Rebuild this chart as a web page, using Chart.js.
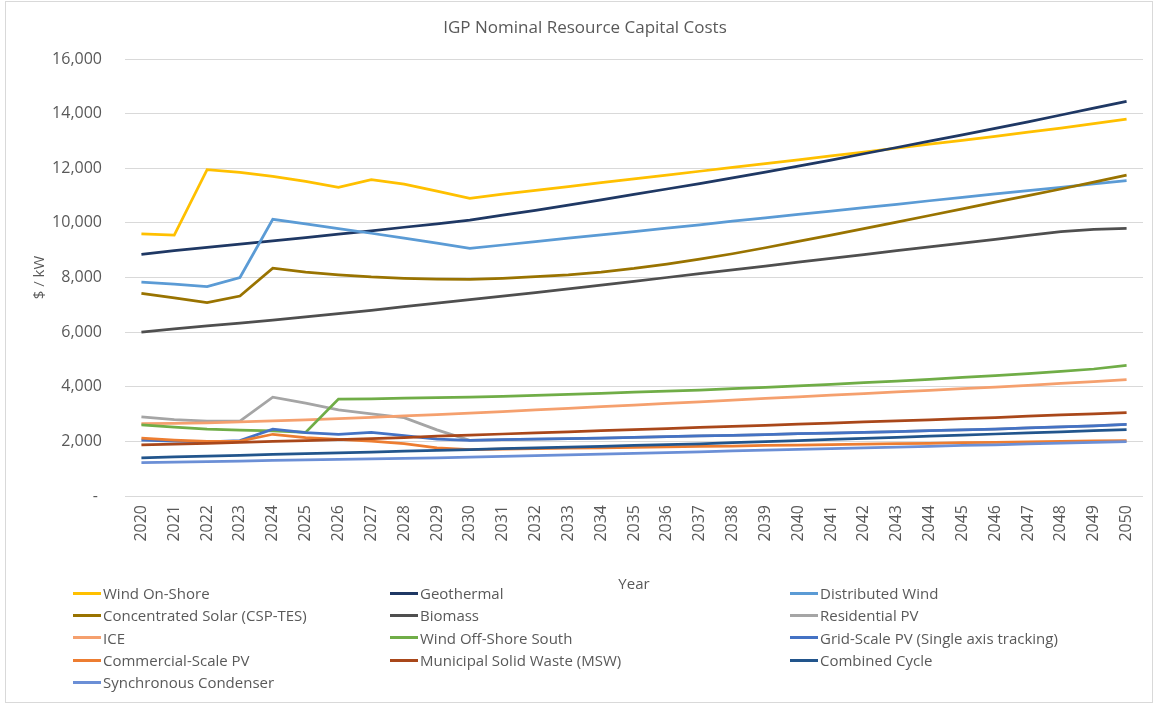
<!DOCTYPE html>
<html lang="en">
<head>
    <meta charset="UTF-8">
    <title>IGP Nominal Resource Capital Costs</title>
    <script src="https://cdn.jsdelivr.net/npm/chart.js"></script>
    <style>
        body {
            margin: 0;
            background: #fff;
            font-family: "Open Sans", sans-serif;
        }
        .frame {
            position: absolute;
            left: 5px;
            top: 1px;
            width: 1146px;
            height: 700px;
            border: 1px solid #d9d9d9;
        }
        #chart {
            position: absolute;
            left: 0;
            top: 0;
        }
        #legend {
            position: absolute;
            left: 73px;
            top: 582px;
            display: grid;
            grid-template-columns: 317px 400px 320px;
            grid-auto-rows: 22.3px;
            font-size: 15px;
            color: #595959;
        }
        .item {
            display: flex;
            align-items: center;
            white-space: nowrap;
        }
        .swatch {
            width: 28px;
            height: 3px;
            margin-right: 2px;
        }
    </style>
</head>
<body>
    <div class="frame"></div>
    <canvas id="chart" width="1156" height="600"></canvas>
    <div id="legend"></div>

    <script>
        const years = ['2020', '2021', '2022', '2023', '2024', '2025', '2026', '2027', '2028', '2029', '2030',
            '2031', '2032', '2033', '2034', '2035', '2036', '2037', '2038', '2039', '2040',
            '2041', '2042', '2043', '2044', '2045', '2046', '2047', '2048', '2049', '2050'];

        // $/kW
        const windOnShore = [9600, 9550, 11950, 11850, 11700, 11520, 11300, 11580, 11420, 11160, 10900,
            11050, 11190, 11330, 11470, 11610, 11750, 11890, 12030, 12170, 12310,
            12450, 12590, 12740, 12880, 13020, 13170, 13320, 13470, 13630, 13800];
        const geothermal = [8850, 8980, 9100, 9220, 9340, 9460, 9590, 9710, 9840, 9960, 10100,
            10280, 10460, 10650, 10840, 11040, 11240, 11440, 11650, 11860, 12080,
            12300, 12530, 12760, 12990, 13220, 13460, 13700, 13950, 14200, 14450];
        const distributedWind = [7830, 7760, 7670, 8000, 10130, 9960, 9790, 9620, 9440, 9260, 9070,
            9190, 9310, 9440, 9560, 9680, 9810, 9930, 10060, 10180, 10310,
            10430, 10560, 10680, 10810, 10930, 11060, 11180, 11300, 11430, 11550];
        const concentratedSolar = [7420, 7250, 7080, 7320, 8340, 8200, 8100, 8020, 7970, 7940, 7930,
            7970, 8030, 8100, 8200, 8330, 8490, 8670, 8870, 9090, 9320,
            9550, 9790, 10030, 10270, 10510, 10760, 11000, 11240, 11490, 11750];
        const biomass = [6000, 6120, 6230, 6330, 6440, 6560, 6680, 6800, 6930, 7060, 7190,
            7320, 7450, 7580, 7720, 7860, 8000, 8140, 8280, 8420, 8560,
            8700, 8840, 8980, 9120, 9260, 9400, 9540, 9680, 9760, 9800];
        const residentialPV = [2900, 2800, 2740, 2740, 3620, 3400, 3150, 3010, 2870, 2420, 2040,
            2060, 2080, 2100, 2120, 2150, 2170, 2200, 2220, 2250, 2280,
            2300, 2330, 2360, 2390, 2420, 2450, 2490, 2530, 2570, 2620];
        const ice = [2650, 2660, 2680, 2710, 2750, 2790, 2830, 2880, 2930, 2980, 3030,
            3090, 3150, 3210, 3270, 3330, 3390, 3450, 3510, 3570, 3630,
            3690, 3750, 3810, 3870, 3930, 3990, 4050, 4120, 4190, 4260];
        const windOffShoreSouth = [2600, 2520, 2450, 2410, 2380, 2330, 3550, 3560, 3580, 3600, 3620,
            3650, 3680, 3720, 3760, 3800, 3840, 3880, 3930, 3980, 4030,
            4090, 4150, 4210, 4270, 4340, 4410, 4480, 4560, 4650, 4780];
        const gridScalePV = [2050, 2010, 1980, 2030, 2450, 2320, 2260, 2330, 2210, 2080, 2040,
            2060, 2080, 2100, 2120, 2150, 2170, 2200, 2220, 2250, 2280,
            2300, 2330, 2360, 2390, 2420, 2450, 2490, 2530, 2570, 2620];
        const commercialPV = [2120, 2050, 2000, 2010, 2260, 2140, 2070, 2010, 1920, 1760, 1700,
            1715, 1730, 1750, 1765, 1780, 1800, 1815, 1830, 1850, 1865,
            1880, 1900, 1915, 1930, 1950, 1965, 1980, 2000, 2015, 2030];
        const msw = [1870, 1900, 1930, 1960, 2000, 2030, 2060, 2100, 2140, 2190, 2230,
            2270, 2310, 2350, 2390, 2430, 2470, 2510, 2550, 2590, 2630,
            2670, 2710, 2750, 2790, 2830, 2870, 2920, 2970, 3010, 3050];
        const combinedCycle = [1400, 1430, 1460, 1490, 1520, 1550, 1580, 1610, 1640, 1670, 1700,
            1730, 1760, 1790, 1820, 1850, 1880, 1910, 1950, 1990, 2030,
            2070, 2110, 2150, 2190, 2230, 2270, 2310, 2350, 2390, 2430];
        const syncCondenser = [1220, 1240, 1260, 1280, 1300, 1320, 1340, 1360, 1380, 1400, 1420,
            1450, 1480, 1510, 1535, 1565, 1590, 1620, 1650, 1680, 1705,
            1735, 1765, 1790, 1820, 1850, 1875, 1905, 1935, 1960, 1990];

        const seriesNames = ['Wind On-Shore', 'Geothermal', 'Distributed Wind',
            'Concentrated Solar (CSP-TES)', 'Biomass', 'Residential PV',
            'ICE', 'Wind Off-Shore South', 'Grid-Scale PV (Single axis tracking)',
            'Commercial-Scale PV', 'Municipal Solid Waste (MSW)', 'Combined Cycle',
            'Synchronous Condenser'];
        const seriesValues = [windOnShore, geothermal, distributedWind, concentratedSolar, biomass,
            residentialPV, ice, windOffShoreSouth, gridScalePV, commercialPV, msw, combinedCycle, syncCondenser];
        const seriesColors = ['#FFC000', '#1F3864', '#5B9BD5', '#997300', '#4F4F4F', '#A5A5A5',
            '#F5A06E', '#70AD47', '#4472C4', '#ED7D31', '#A9471A', '#22558C', '#6B8FD6'];

        const textColor = '#595959';
        const fontFamily = '"Open Sans", sans-serif';

        // Excel draws later series on top, so give earlier ones a higher order
        const datasets = seriesNames.map((name, i) => ({
            label: name,
            data: seriesValues[i],
            borderColor: seriesColors[i],
            backgroundColor: seriesColors[i],
            borderWidth: 2.75,
            pointRadius: 0,
            tension: 0,
            fill: false,
            order: seriesNames.length - i
        }));

        const chart = new Chart(document.getElementById('chart'), {
            type: 'line',
            data: { labels: years, datasets: datasets },
            options: {
                responsive: false,
                animation: false,
                layout: { padding: { left: 27, right: 13, top: 0, bottom: 0 } },
                plugins: {
                    legend: { display: false },
                    tooltip: { enabled: false },
                    title: {
                        display: true,
                        text: 'IGP Nominal Resource Capital Costs',
                        color: textColor,
                        font: { family: fontFamily, size: 17, weight: 'normal' },
                        padding: { top: 18, bottom: 20.6 }
                    }
                },
                scales: {
                    x: {
                        offset: true,
                        grid: { display: false, drawTicks: false },
                        border: { display: false },
                        ticks: {
                            autoSkip: false,
                            maxRotation: 90,
                            minRotation: 90,
                            padding: 9,
                            color: textColor,
                            font: { family: fontFamily, size: 16 }
                        },
                        title: {
                            display: true,
                            text: 'Year',
                            color: textColor,
                            font: { family: fontFamily, size: 15 },
                            padding: { top: 0, bottom: 6 }
                        },
                        afterFit: s => { s.height = 104; }
                    },
                    y: {
                        min: 0,
                        max: 16000,
                        grid: { color: '#d9d9d9', drawTicks: false },
                        border: { display: false },
                        ticks: {
                            stepSize: 2000,
                            padding: 23,
                            color: textColor,
                            font: { family: fontFamily, size: 16 },
                            callback: v => v === 0 ? '- ' : v.toLocaleString('en-US')
                        },
                        title: {
                            display: true,
                            text: '$ / kW',
                            color: textColor,
                            font: { family: fontFamily, size: 15 },
                            padding: { top: 4, bottom: 0 }
                        },
                        afterFit: s => { s.width = 98; }
                    }
                }
            }
        });

        // legend in three columns, like the original
        const legend = document.getElementById('legend');
        chart.data.datasets.forEach(ds => {
            legend.innerHTML += `<div class="item"><span class="swatch" style="background:${ds.borderColor}"></span>${ds.label}</div>`;
        });
    </script>
</body>
</html>
